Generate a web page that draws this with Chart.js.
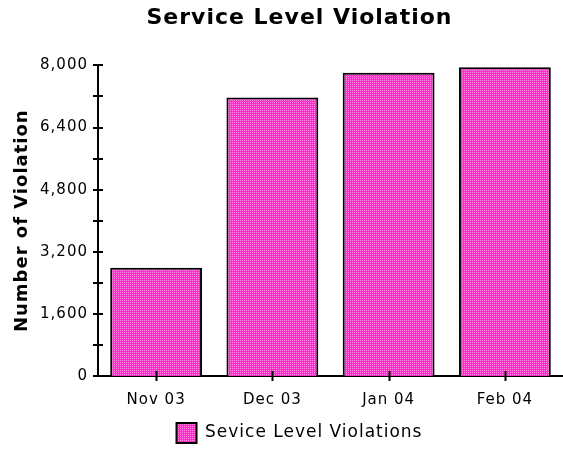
<!DOCTYPE html>
<html>
<head>
<meta charset="utf-8">
<script src="https://cdn.jsdelivr.net/npm/chart.js@4/dist/chart.umd.min.js"></script>
<style>
  html, body { margin: 0; padding: 0; background: #fff; overflow: hidden; }
  #wrap { width: 563px; height: 450px; }
</style>
</head>
<body>
<div id="wrap"><canvas id="myChart" width="563" height="450"></canvas></div>
<script>
// Datos del grafico
const categorias = ['Nov 03', 'Dec 03', 'Jan 04', 'Feb 04'];
const violaciones = [2790, 7170, 7810, 7950];
const ejeMin = 0;
const ejeMax = 8000;
const pasoTick = 800;      // marcas menores
const pasoEtiqueta = 1600; // marcas con texto

const FUENTE = "'DejaVu Sans', sans-serif";

// Relleno punteado rosa
function crearPatron() {
    const c = document.createElement('canvas');
    c.width = 2;
    c.height = 2;
    const g = c.getContext('2d');
    g.fillStyle = 'rgb(255, 45, 200)';
    g.fillRect(0, 0, 2, 2);
    g.fillStyle = 'rgb(255, 135, 230)';
    g.fillRect(0, 0, 1, 1);
    return g.createPattern(c, 'repeat');
}

// Marcas que cruzan los ejes
const marcasCruzadas = {
    id: 'marcasCruzadas',
    afterDatasetsDraw(chart) {
        const ctx = chart.ctx;
        const area = chart.chartArea;
        const x = chart.scales.x;
        const y = chart.scales.y;
        ctx.save();
        ctx.strokeStyle = '#000';
        ctx.lineWidth = 2;
        ctx.beginPath();
        y.ticks.forEach(t => {
            const py = Math.round(y.getPixelForValue(t.value));
            ctx.moveTo(area.left - 5, py);
            ctx.lineTo(area.left + 5, py);
        });
        x.ticks.forEach((t, i) => {
            const px = Math.round(x.getPixelForTick(i)) + 0.5;
            ctx.moveTo(px, area.bottom - 5);
            ctx.lineTo(px, area.bottom + 5);
        });
        ctx.stroke();
        ctx.restore();
    }
};

// Espaciado de letras y centrado de titulo/leyenda
const ajustes = {
    id: 'ajustes',
    beforeUpdate(chart) {
        chart.ctx.letterSpacing = '1px';
    },
    afterLayout(chart) {
        [chart.titleBlock, chart.legend].forEach(b => {
            if (b) { b.left += 18; b.right += 18; }
        });
        if (chart.legend) { chart.legend.top += 3; chart.legend.bottom += 3; }
    }
};

function crearGrafico() {
    const ctx = document.getElementById('myChart').getContext('2d');
    const patron = crearPatron();

    new Chart(ctx, {
        type: 'bar',
        data: {
            labels: categorias,
            datasets: [{
                label: 'Sevice Level Violations',
                data: violaciones,
                backgroundColor: patron,
                borderColor: '#000',
                borderWidth: 2,
                barPercentage: 0.79,
                categoryPercentage: 1.0
            }]
        },
        options: {
            responsive: false,
            animation: false,
            devicePixelRatio: 1,
            layout: { padding: { left: 0, right: 0, top: 0, bottom: 0 } },
            plugins: {
                title: {
                    display: true,
                    text: 'Service Level Violation',
                    color: '#000',
                    font: { family: FUENTE, size: 22, weight: 'bold' },
                    padding: { top: 5, bottom: 34 }
                },
                legend: {
                    position: 'bottom',
                    labels: {
                        color: '#000',
                        font: { family: FUENTE, size: 17 },
                        boxWidth: 20,
                        boxHeight: 20,
                        padding: 2
                    }
                },
                tooltip: { enabled: false }
            },
            scales: {
                x: {
                    grid: { display: false, drawTicks: false },
                    border: { display: true, color: '#000', width: 2 },
                    ticks: {
                        color: '#000',
                        padding: 15,
                        font: { family: FUENTE, size: 15 }
                    },
                    afterFit(scale) { scale.height = 42; }
                },
                y: {
                    min: ejeMin,
                    max: ejeMax,
                    grid: { display: false, drawTicks: false },
                    border: { display: true, color: '#000', width: 2 },
                    ticks: {
                        stepSize: pasoTick,
                        color: '#000',
                        padding: 10,
                        font: { family: FUENTE, size: 15 },
                        callback: function(v) {
                            return v % pasoEtiqueta === 0 ? v.toLocaleString('en-US') : '';
                        }
                    },
                    title: {
                        display: true,
                        text: 'Number of Violation',
                        color: '#000',
                        font: { family: FUENTE, size: 18, weight: 'bold' },
                        padding: { top: 12, bottom: 0 }
                    },
                    afterFit(scale) { scale.width = 98; }
                }
            }
        },
        plugins: [ajustes, marcasCruzadas]
    });
}

document.addEventListener('DOMContentLoaded', crearGrafico);
</script>
</body>
</html>
